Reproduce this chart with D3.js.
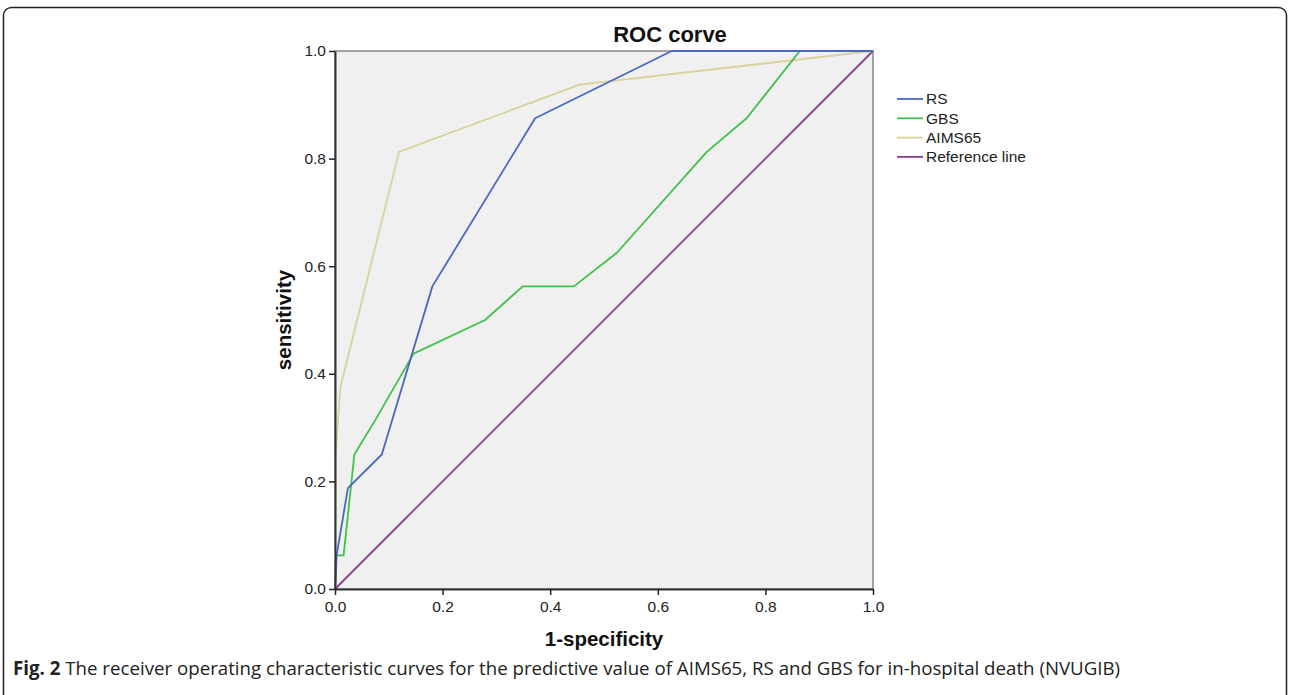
<!DOCTYPE html>
<html>
<head>
<meta charset="utf-8">
<script src="https://cdn.jsdelivr.net/npm/d3@7"></script>
<style>
  body { margin: 0; background: #fff; }
  svg { display: block; }
</style>
</head>
<body>
<div id="chart"></div>
<script>
const WIDTH = 1290;
const HEIGHT = 695;

// ROC points: [1-specificity, sensitivity]
const rsPoints = [[0,0],[0.003,0.0625],[0.024,0.1875],[0.087,0.25],[0.181,0.5625],[0.372,0.875],[0.626,1.0],[1,1]];
const gbsPoints = [[0,0],[0.002,0.0625],[0.016,0.0625],[0.036,0.25],[0.074,0.3125],[0.146,0.4375],[0.279,0.5],[0.349,0.5625],[0.444,0.5625],[0.524,0.625],[0.691,0.8125],[0.765,0.875],[0.864,1.0],[1,1]];
const aimsPoints = [[0,0],[0.001,0.25],[0.01,0.375],[0.119,0.8125],[0.455,0.9375],[1,1]];
const refPoints = [[0,0],[1,1]];

const seriesNames = ["RS", "GBS", "AIMS65", "Reference line"];
const seriesColors = ["#4a68c0", "#41c04a", "#d9d29c", "#8a3d8c"];
const ticks = [0, 0.2, 0.4, 0.6, 0.8, 1.0];

const marginLeft = 335, marginRight = 417, marginTop = 51, marginBottom = 106;
const FONT = "Arial, 'Liberation Sans', sans-serif";

const svg = d3.select("#chart").append("svg")
    .attr("width", WIDTH)
    .attr("height", HEIGHT);

// figure frame (rounded, runs off the bottom)
svg.append("rect")
    .attr("x", 3.5).attr("y", 7.5)
    .attr("width", 1283).attr("height", 720)
    .attr("rx", 8).attr("ry", 8)
    .attr("fill", "none")
    .attr("stroke", "#222")
    .attr("stroke-width", 1.5);

const x = d3.scaleLinear().domain([0, 1]).range([marginLeft, WIDTH - marginRight]);
const y = d3.scaleLinear().domain([0, 1]).range([HEIGHT - marginBottom, marginTop]);

// plot background
svg.append("rect")
    .attr("x", x(0)).attr("y", y(1))
    .attr("width", x(1) - x(0)).attr("height", y(0) - y(1))
    .attr("fill", "#f0f0f0")
    .attr("stroke", "#888")
    .attr("stroke-width", 1.5);

const line = d3.line().x(d => x(d[0])).y(d => y(d[1]));

const allSeries = [rsPoints, gbsPoints, aimsPoints, refPoints];
// draw reference first, then AIMS65, GBS, RS on top
[3, 2, 1, 0].forEach(function(i) {
  svg.append("path")
      .attr("fill", "none")
      .attr("stroke", seriesColors[i])
      .attr("stroke-width", 1.8)
      .attr("stroke-linejoin", "round")
      .attr("d", line(allSeries[i]));
});

// axes
const xAxis = svg.append("g")
    .attr("transform", `translate(0,${y(0)})`)
    .call(d3.axisBottom(x).tickValues(ticks).tickFormat(d3.format(".1f")).tickSize(6).tickSizeOuter(0));
const yAxis = svg.append("g")
    .attr("transform", `translate(${x(0)},0)`)
    .call(d3.axisLeft(y).tickValues(ticks).tickFormat(d3.format(".1f")).tickSize(6).tickSizeOuter(0));

[xAxis, yAxis].forEach(function(ax) {
  ax.select(".domain").attr("stroke", "#333").attr("stroke-width", 2);
  ax.selectAll(".tick line").attr("stroke", "#222").attr("stroke-width", 1.5);
  ax.selectAll(".tick text")
      .attr("fill", "#222")
      .style("font-family", FONT)
      .style("font-size", "15.5px");
});
xAxis.selectAll(".tick text").attr("dy", "0.9em");
yAxis.selectAll(".tick text").attr("x", -9);

// title
svg.append("text")
    .attr("x", 670).attr("y", 42)
    .attr("text-anchor", "middle")
    .style("font-family", FONT)
    .style("font-size", "22px")
    .style("font-weight", "bold")
    .attr("fill", "#111")
    .text("ROC corve");

// axis titles
svg.append("text")
    .attr("x", x(0.5)).attr("y", 646)
    .attr("text-anchor", "middle")
    .style("font-family", FONT)
    .style("font-size", "20.5px")
    .style("font-weight", "bold")
    .attr("fill", "#111")
    .text("1-specificity");

svg.append("text")
    .attr("transform", `translate(291,${y(0.5)}) rotate(-90)`)
    .attr("text-anchor", "middle")
    .style("font-family", FONT)
    .style("font-size", "20.5px")
    .style("font-weight", "bold")
    .attr("fill", "#111")
    .text("sensitivity");

// legend
const legend = svg.append("g").attr("transform", "translate(897,99)");
seriesNames.forEach(function(name, i) {
  const row = legend.append("g").attr("transform", `translate(0,${i * 19.3})`);
  row.append("line")
      .attr("x1", 0).attr("x2", 26)
      .attr("stroke", seriesColors[i])
      .attr("stroke-width", 1.8);
  row.append("text")
      .attr("x", 29).attr("dy", "0.35em")
      .style("font-family", FONT)
      .style("font-size", "15.5px")
      .attr("fill", "#222")
      .text(name);
});

// caption
const caption = svg.append("text")
    .attr("x", 13).attr("y", 675)
    .style("font-family", "'Open Sans', 'Noto Sans', sans-serif")
    .style("font-size", "18.7px")
    .attr("fill", "#222");
caption.append("tspan").style("font-weight", "bold").text("Fig. 2");
caption.append("tspan").text(" The receiver operating characteristic curves for the predictive value of AIMS65, RS and GBS for in-hospital death (NVUGIB)");
</script>
</body>
</html>
